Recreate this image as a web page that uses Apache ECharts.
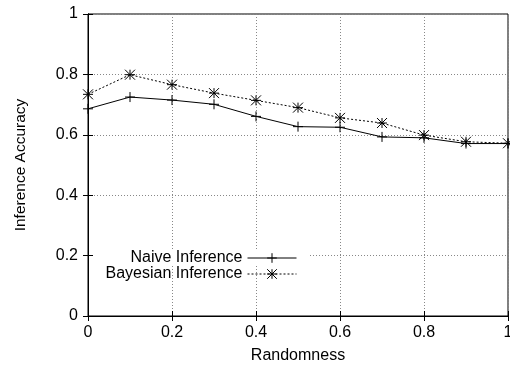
<!DOCTYPE html>
<html>
<head>
<meta charset="utf-8">
<script src="https://cdn.jsdelivr.net/npm/echarts@6/dist/echarts.min.js"></script>
<style>html,body{margin:0;padding:0;background:#fff}#c{width:510px;height:365px}</style>
</head>
<body>
<div id="c"></div>
<script>
var randomness = [0, 0.1, 0.2, 0.3, 0.4, 0.5, 0.6, 0.7, 0.8, 0.9, 1.0];
var naiveInference = [0.686, 0.725, 0.715, 0.701, 0.661, 0.627, 0.625, 0.593, 0.590, 0.571, 0.571];
var bayesianInference = [0.734, 0.799, 0.766, 0.738, 0.714, 0.690, 0.656, 0.639, 0.599, 0.577, 0.572];
var seriesNames = ['Naive Inference', 'Bayesian Inference'];
var xTitle = 'Randomness';
var yTitle = 'Inference Accuracy';

var FONT = 'Liberation Sans, Arial, Helvetica, sans-serif';
var PLUS = 'path://M5,0L5,10M0,5L10,5';
var STAR = 'path://M5,0L5,10M0,5L10,5M0,0L10,10M10,0L0,10';

function pairs(xs, ys) { return xs.map(function (x, i) { return [x, ys[i]]; }); }

var chart = echarts.init(document.getElementById('c'), null, {renderer: 'canvas'});
var tickStyle = {show: true, inside: true, length: 5, lineStyle: {color: '#000', width: 1}};
var gridLine = {show: true, lineStyle: {color: '#888', type: [1, 2], width: 1}};
var FS = 16;
var lbl = {color: '#000', fontSize: FS, fontFamily: FONT};
var legendText = {fontSize: FS, fontFamily: FONT, color: '#000'};
var legendItem = {color: 'rgba(0,0,0,0)', borderColor: '#000', borderWidth: 1};

chart.setOption({
  animation: false,
  backgroundColor: '#fff',
  textStyle: {fontFamily: FONT, color: '#000'},
  grid: {left: 88, right: 2, top: 14, bottom: 49, show: true, borderColor: '#000', borderWidth: 1,
         backgroundColor: 'transparent', containLabel: false, outerBoundsMode: 'none'},
  legend: [
    {
      data: [seriesNames[0]], orient: 'vertical', align: 'right', right: 201, top: 250,
      itemWidth: 49, itemHeight: 12, backgroundColor: '#fff', padding: [0, 12, 0, 37],
      textStyle: legendText, itemStyle: legendItem,
      lineStyle: {width: 1, type: 'solid', color: '#000'}
    },
    {
      data: [seriesNames[1]], orient: 'vertical', align: 'right', right: 213, top: 266,
      itemWidth: 49, itemHeight: 12, padding: 0,
      textStyle: legendText, itemStyle: legendItem,
      lineStyle: {width: 1, type: [2, 2], color: '#000'}
    }
  ],
  xAxis: [
    {
      type: 'value', min: 0, max: 1, interval: 0.2, position: 'bottom',
      name: xTitle, nameLocation: 'middle', nameGap: 32,
      nameTextStyle: {fontSize: FS, fontFamily: FONT, color: '#000'},
      axisLine: {show: true, lineStyle: {color: '#000'}},
      axisTick: tickStyle, axisLabel: Object.assign({margin: 9}, lbl), splitLine: gridLine
    },
    {
      type: 'value', min: 0, max: 1, interval: 0.2, position: 'top',
      axisLine: {show: true, lineStyle: {color: '#000'}},
      axisTick: tickStyle, axisLabel: {show: false}, splitLine: {show: false}
    }
  ],
  yAxis: [
    {
      type: 'value', min: 0, max: 1, interval: 0.2, position: 'left',
      name: yTitle, nameLocation: 'middle', nameGap: 59, nameRotate: 90,
      nameTextStyle: {fontSize: 15.5, fontFamily: FONT, color: '#000'},
      axisLine: {show: true, lineStyle: {color: '#000'}},
      axisTick: tickStyle, axisLabel: Object.assign({margin: 10}, lbl), splitLine: gridLine
    },
    {
      type: 'value', min: 0, max: 1, interval: 0.2, position: 'right',
      axisLine: {show: true, lineStyle: {color: '#000'}},
      axisTick: tickStyle, axisLabel: {show: false}, splitLine: {show: false}
    }
  ],
  series: [
    {
      name: seriesNames[0], type: 'line', data: pairs(randomness, naiveInference),
      symbol: PLUS, symbolSize: 10, showAllSymbol: true,
      lineStyle: {color: '#000', width: 1, type: 'solid'},
      itemStyle: {color: 'rgba(0,0,0,0)', borderColor: '#000', borderWidth: 1},
      emphasis: {disabled: true}, z: 3
    },
    {
      name: seriesNames[1], type: 'line', data: pairs(randomness, bayesianInference),
      symbol: STAR, symbolSize: 10, showAllSymbol: true,
      lineStyle: {color: '#000', width: 1, type: [2, 2]},
      itemStyle: {color: 'rgba(0,0,0,0)', borderColor: '#000', borderWidth: 1},
      emphasis: {disabled: true}, z: 3
    }
  ]
});
</script>
</body>
</html>
